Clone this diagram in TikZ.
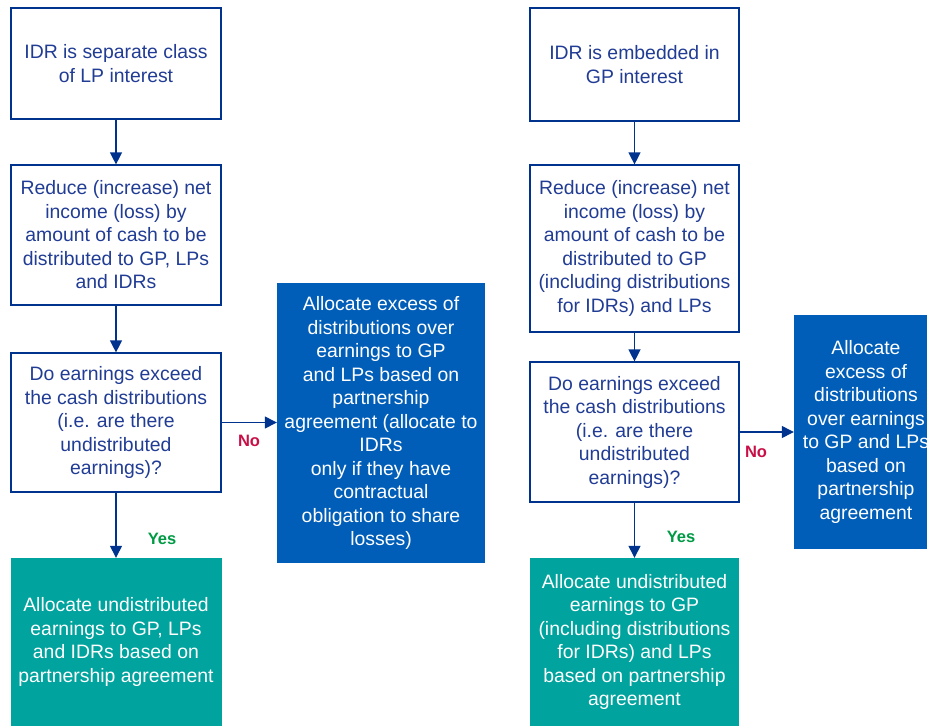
\documentclass[tikz,border=0pt]{standalone}
\usepackage{fontspec}
\setmainfont{Liberation Sans}
\usetikzlibrary{arrows.meta}
\definecolor{navy}{RGB}{0,51,141}
\definecolor{txtblue}{RGB}{33,60,148}
\definecolor{fillblue}{RGB}{0,94,184}
\definecolor{teal}{RGB}{0,163,157}
\definecolor{nored}{RGB}{200,16,70}
\definecolor{yesgreen}{RGB}{0,154,68}
\tikzset{
  stepbox/.style={draw=navy, line width=1.2pt, fill=white, text=txtblue, align=center,
    inner sep=0pt, font=\fontsize{19.4}{23.5}\selectfont},
  bluebox/.style={fill=fillblue, text=white, align=center, inner sep=0pt,
    font=\fontsize{19.4}{23.5}\selectfont},
  tealbox/.style={fill=teal, text=white, align=center, inner sep=0pt,
    font=\fontsize{19.4}{23.5}\selectfont},
  flow/.style={draw=navy, line width=1.3pt, -{Triangle[length=12pt,width=12pt]}},
  nolbl/.style={text=nored, font=\fontsize{16.5}{18}\selectfont\bfseries},
  yeslbl/.style={text=yesgreen, font=\fontsize{16.5}{18}\selectfont\bfseries}
}
\begin{document}
\begin{tikzpicture}[x=1pt,y=-1pt]
\useasboundingbox (0,0) rectangle (927,726);
% left column
\node[stepbox, minimum width=210pt, minimum height=111pt] (A) at (116,63.5)
  {IDR is separate class\\of LP interest};
\node[stepbox, minimum width=210pt, minimum height=140pt] (B) at (116,235)
  {Reduce (increase) net\\income (loss) by\\amount of cash to be\\distributed to GP, LPs\\and IDRs};
\node[stepbox, minimum width=210pt, minimum height=139pt] (C) at (116,422.5)
  {Do earnings exceed\\the cash distributions\\(i.e. are there\\undistributed\\earnings)?};
\node[tealbox, minimum width=211pt, minimum height=168pt] (D) at (116,642)
  {Allocate undistributed\\earnings to GP, LPs\\and IDRs based on\\partnership agreement};
\node[bluebox, minimum width=208pt, minimum height=280pt] (E) at (381,423)
  {Allocate excess of\\distributions over\\earnings to GP\\and LPs based on\\partnership\\agreement (allocate to\\IDRs\\only if they have\\contractual\\obligation to share\\losses)};
% right column
\node[stepbox, minimum width=209pt, minimum height=113pt] (F) at (634.5,64.5)
  {IDR is embedded in\\GP interest};
\node[stepbox, minimum width=209pt, minimum height=167pt] (G) at (634.5,248.5)
  {Reduce (increase) net\\income (loss) by\\amount of cash to be\\distributed to GP\\(including distributions\\for IDRs) and LPs};
\node[stepbox, minimum width=209pt, minimum height=140pt] (H) at (634.5,432)
  {Do earnings exceed\\the cash distributions\\(i.e. are there\\undistributed\\earnings)?};
\node[tealbox, minimum width=209pt, minimum height=168pt] (I) at (634.5,642)
  {Allocate undistributed\\earnings to GP\\(including distributions\\for IDRs) and LPs\\based on partnership\\agreement};
\node[bluebox, minimum width=144pt, minimum height=234pt] (J) at (866,432)
  {Allocate\\excess of\\distributions\\over earnings\\to GP and LPs\\based on\\partnership\\agreement};
% connectors
\draw[flow] (A) -- (B);
\draw[flow] (B) -- (C);
\draw[flow] (C) -- (D);
\draw[flow] (C.east) -- (E.west |- C.east);
\draw[flow] (F) -- (G);
\draw[flow] (G) -- (H);
\draw[flow] (H) -- (I);
\draw[flow] (H.east) -- (J.west |- H.east);
% labels
\node[nolbl] (no1) at (249,441) {No};
\node[yeslbl] (yes1) at (162,539) {Yes};
\node[nolbl] (no2) at (756,452) {No};
\node[yeslbl] (yes2) at (681,537) {Yes};
\end{tikzpicture}
\end{document}
